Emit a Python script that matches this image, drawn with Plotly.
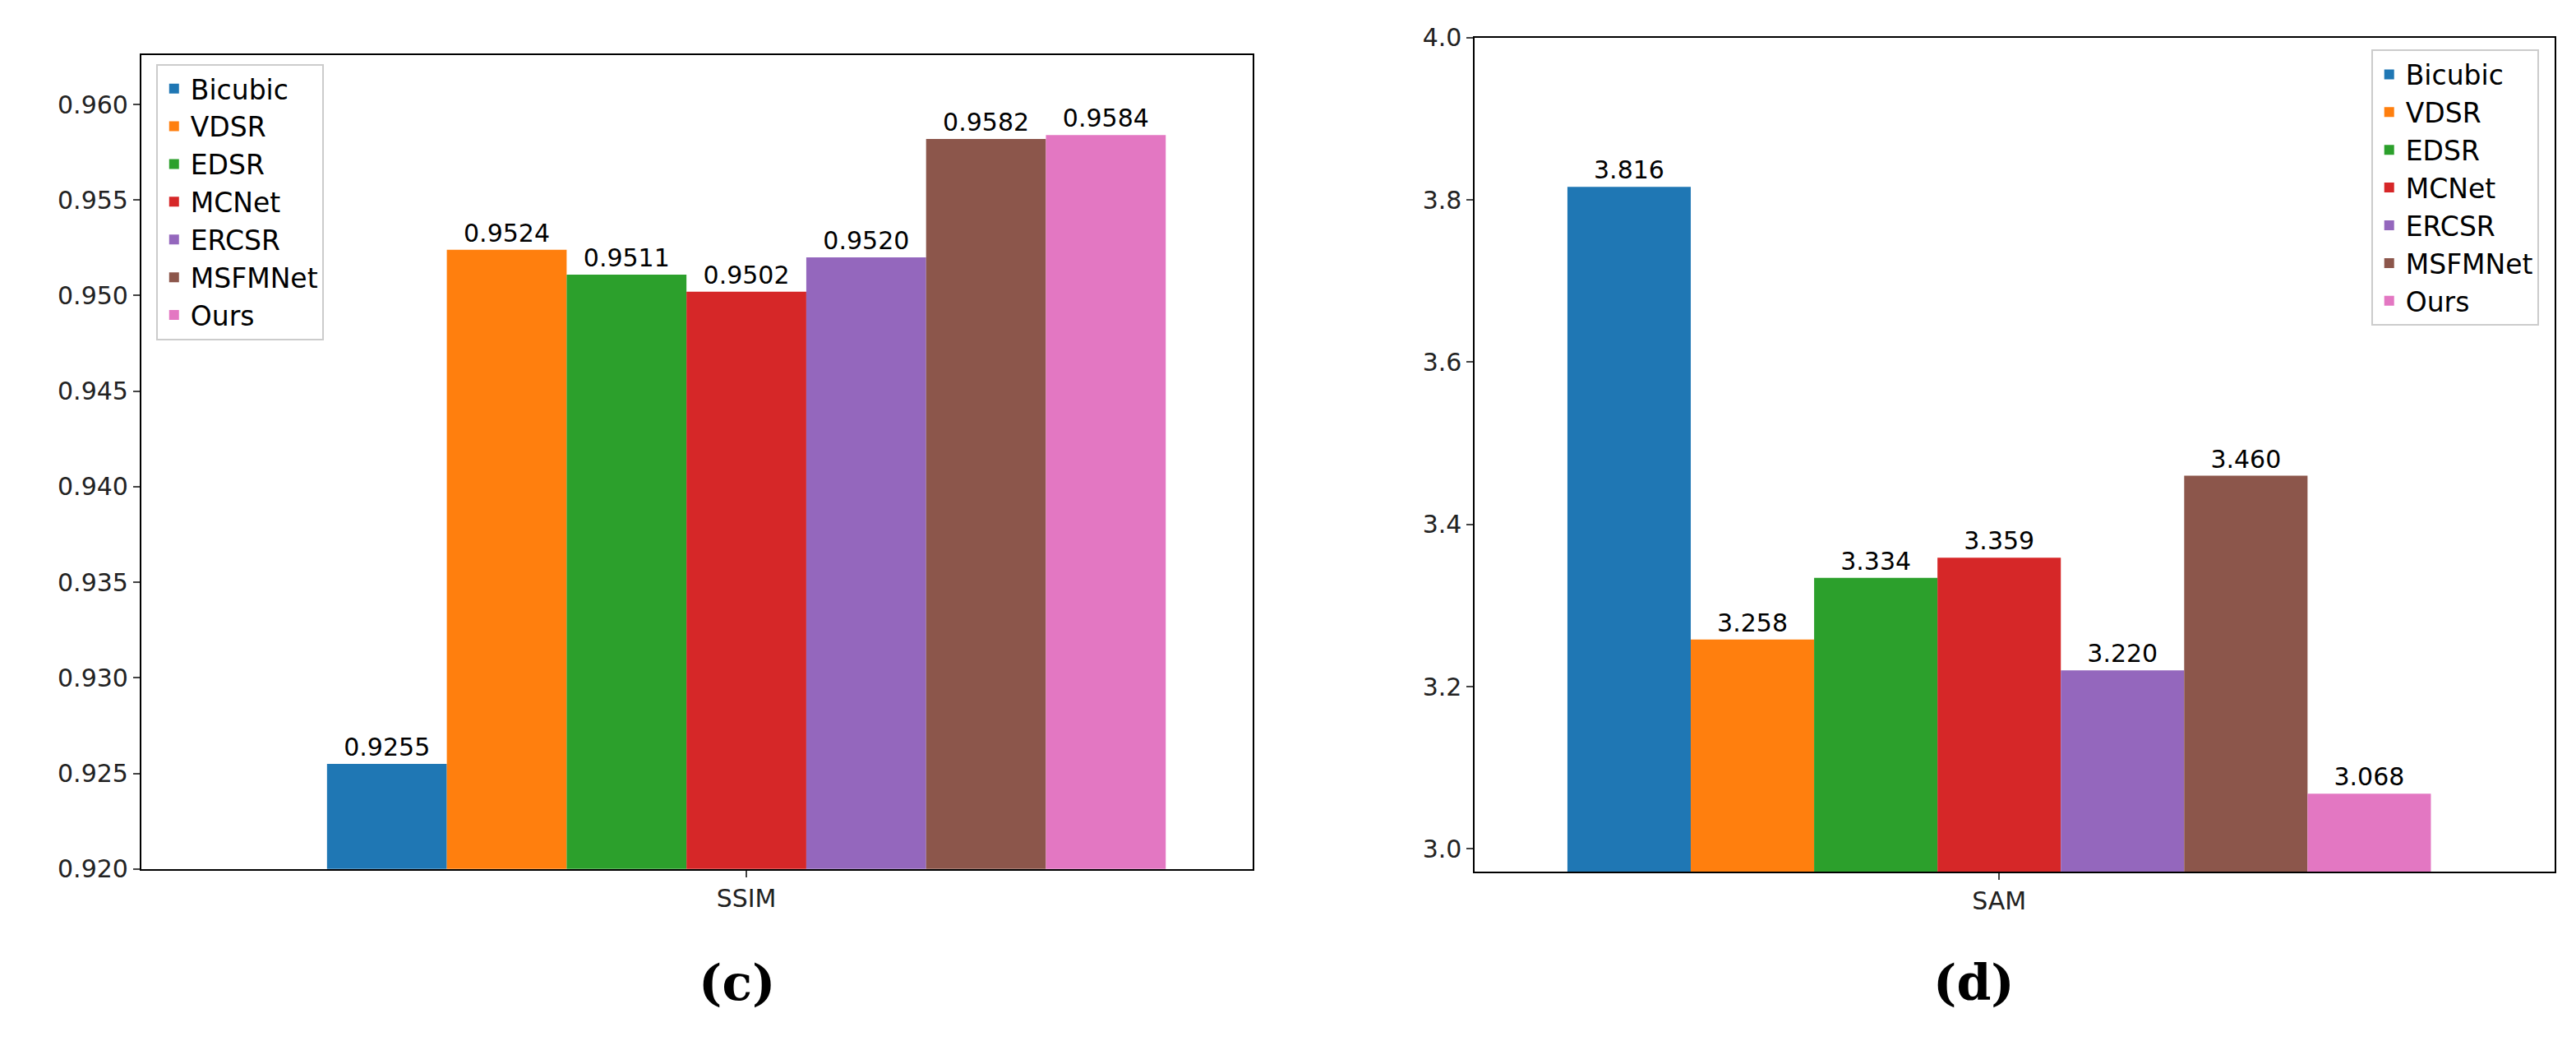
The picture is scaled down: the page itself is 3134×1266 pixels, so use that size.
import plotly.graph_objects as go

methods = ["Bicubic", "VDSR", "EDSR", "MCNet", "ERCSR", "MSFMNet", "Ours"]
colors = ["#1f77b4", "#ff7f0e", "#2ca02c", "#d62728", "#9467bd", "#8c564b", "#e377c2"]
ssim = [0.9255, 0.9524, 0.9511, 0.9502, 0.9520, 0.9582, 0.9584]
sam = [3.816, 3.258, 3.334, 3.359, 3.220, 3.460, 3.068]
ssim_ticks = [0.920, 0.925, 0.930, 0.935, 0.940, 0.945, 0.950, 0.955, 0.960]
sam_ticks = [3.0, 3.2, 3.4, 3.6, 3.8, 4.0]

W = 0.1
fig = go.Figure()
for i, m in enumerate(methods):
    off = (i - 3) * W
    fig.add_trace(go.Bar(x=[off], y=[ssim[i]], width=W, name=m, marker_color=colors[i],
                         marker_line_width=0, text=[f"{ssim[i]:.4f}"], textposition="outside",
                         textfont=dict(size=30, color="black"), xaxis="x", yaxis="y", legend="legend"))
    fig.add_trace(go.Bar(x=[off], y=[sam[i]], width=W, name=m, marker_color=colors[i],
                         marker_line_width=0, text=[f"{sam[i]:.3f}"], textposition="outside",
                         textfont=dict(size=30, color="black"), xaxis="x2", yaxis="y2", legend="legend2"))

ax = dict(showline=True, linecolor="black", linewidth=2, mirror=True, ticks="outside",
          ticklen=8, tickwidth=2, showgrid=False, zeroline=False, tickfont=dict(size=30, color="#222"))
fig.update_layout(
    width=3134, height=1266, margin=dict(l=0, r=0, t=0, b=0),
    paper_bgcolor="white", plot_bgcolor="white",
    font=dict(family="DejaVu Sans", color="black"),
    xaxis=dict(domain=[0.0523, 0.4837], range=[-0.505, 0.4225], tickvals=[0], ticktext=["SSIM"], **ax),
    yaxis=dict(domain=[0.1627, 0.967], range=[0.920, 0.9626], tickvals=ssim_ticks,
               tickformat=".3f", anchor="x", **ax),
    xaxis2=dict(domain=[0.570, 0.989], range=[-0.425, 0.45], tickvals=[0], ticktext=["SAM"], anchor="y2", **ax),
    yaxis2=dict(domain=[0.160, 0.984], range=[2.972, 4.0], tickvals=sam_ticks,
                tickformat=".1f", anchor="x2", **ax),
    legend=dict(x=0.058, y=0.958, xanchor="left", yanchor="top", font=dict(size=33),
                bordercolor="#ccc", borderwidth=2, bgcolor="rgba(255,255,255,0.8)", tracegroupgap=4),
    legend2=dict(x=0.983, y=0.972, xanchor="right", yanchor="top", font=dict(size=33),
                 bordercolor="#ccc", borderwidth=2, bgcolor="rgba(255,255,255,0.8)"),
    showlegend=True,
    annotations=[
        dict(text="<b>(c)</b>", x=0.268, y=0.02, xref="paper", yref="paper", showarrow=False,
             font=dict(size=60, family="DejaVu Serif")),
        dict(text="<b>(d)</b>", x=0.78, y=0.02, xref="paper", yref="paper", showarrow=False,
             font=dict(size=60, family="DejaVu Serif")),
    ],
)
fig.write_html("out.html")
